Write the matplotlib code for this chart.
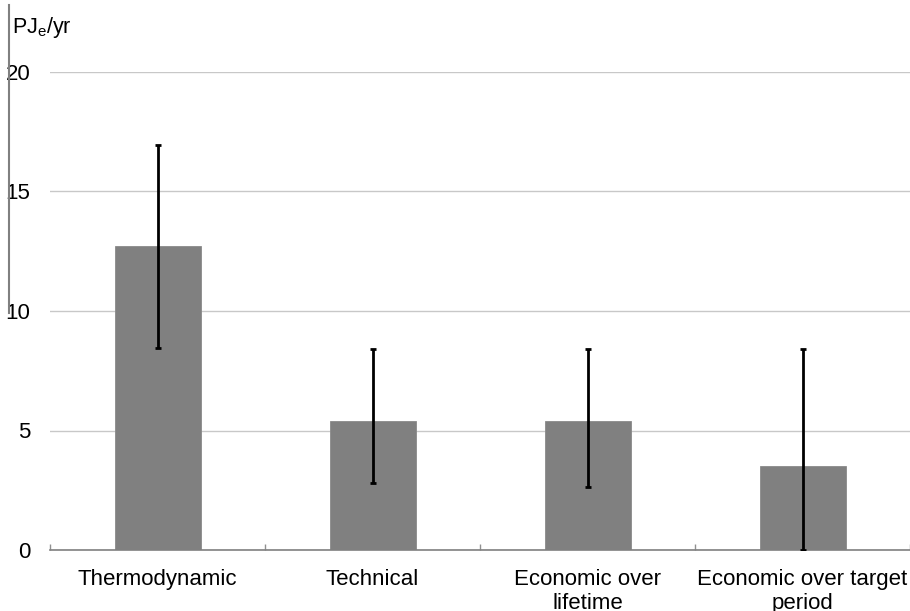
import matplotlib
matplotlib.use("Agg")
import matplotlib.pyplot as plt
from matplotlib.lines import Line2D

plt.rcParams['font.family'] = ['Liberation Sans', 'DejaVu Sans']
plt.rcParams['mathtext.fontset'] = 'custom'
plt.rcParams['mathtext.rm'] = 'Liberation Sans'
plt.rcParams['mathtext.default'] = 'regular'

categories = ["Thermodynamic", "Technical", "Economic over\nlifetime", "Economic over target\nperiod"]
values = [12.7, 5.4, 5.4, 3.5]
err_low = [8.45, 2.8, 2.65, 0.0]
err_high = [16.95, 8.4, 8.4, 8.4]
yticks = [0, 5, 10, 15, 20]

fig = plt.figure(figsize=(9.1, 6.11), dpi=100)
W, H = 910, 611
ax = fig.add_axes([50 / W, (H - 550) / H, 860 / W, 478 / H])

x = list(range(len(categories)))
lower = [v - lo for v, lo in zip(values, err_low)]
upper = [hi - v for v, hi in zip(values, err_high)]
ax.bar(x, values, width=0.4, color='#808080', edgecolor='#8a8a8a', linewidth=0.6, zorder=2)
ax.errorbar(x, values, yerr=[lower, upper], fmt='none', ecolor='black',
            elinewidth=2.0, capsize=2.5, capthick=2.0, zorder=3)

ax.set_xlim(-0.5, len(categories) - 0.5)
ax.set_ylim(0, 20)
ax.set_yticks(yticks)
ax.set_yticklabels([str(t) for t in yticks], fontsize=16)
ax.tick_params(axis='y', length=0, pad=14)
ax.yaxis.grid(True, color='#c8c8c8', linewidth=1.0, zorder=0)
ax.set_axisbelow(True)

ax.set_xticks([i + 0.5 for i in range(-1, len(categories))], minor=False)
ax.set_xticklabels([])
ax.tick_params(axis='x', direction='in', length=4, width=1, color='#909090')
ax.set_xticks(x, minor=True)
ax.set_xticklabels(categories, minor=True, fontsize=16, linespacing=1.15)
ax.tick_params(axis='x', which='minor', length=0, pad=14)

for s in ['top', 'right', 'left']:
    ax.spines[s].set_visible(False)
ax.spines['bottom'].set_color('#808080')
ax.spines['bottom'].set_linewidth(1.2)

fig.add_artist(Line2D([9 / W, 9 / W], [1 - 5 / H, 1 - 313 / H], transform=fig.transFigure,
                      color='#808080', linewidth=1.5))
fig.text(12 / W, 1 - 33 / H, r'PJ$_{e}$/yr', fontsize=15.5, ha='left', va='baseline')

fig.savefig('out.png', dpi=100)
